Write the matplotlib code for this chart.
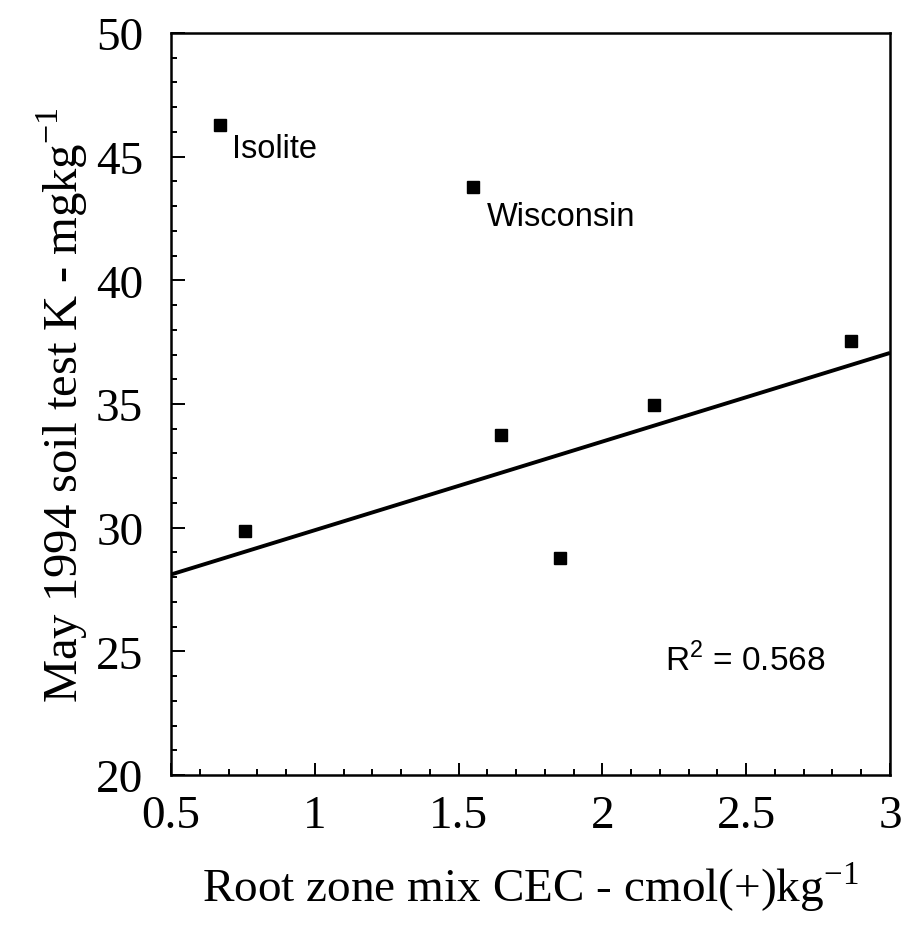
import matplotlib
matplotlib.use("Agg")
import matplotlib.pyplot as plt
import numpy as np
from matplotlib.ticker import MultipleLocator

# Data
cec = [0.67, 0.757, 1.549, 1.647, 1.853, 2.178, 2.866]
soil_k = [46.28, 29.87, 43.76, 33.76, 28.77, 34.96, 37.54]
names = ["Isolite", "", "Wisconsin", "", "", "", ""]
r2_text = "0.568"

plt.rcParams['mathtext.fontset'] = 'custom'
plt.rcParams['mathtext.rm'] = 'Liberation Serif'
plt.rcParams['mathtext.sf'] = 'Liberation Sans'

serif = 'Liberation Serif'
sans = 'Liberation Sans'

fig = plt.figure(figsize=(9.03, 9.28), dpi=100)
ax = fig.add_axes([0.1894, 0.1638, 0.7962, 0.7996])

ax.plot(cec, soil_k, 's', color='black', markersize=8)

# regression line fitted without the two labelled mixes
fit_x = np.array([c for c, n in zip(cec, names) if n == ""])
fit_y = np.array([k for k, n in zip(soil_k, names) if n == ""])
slope, intercept = np.polyfit(fit_x, fit_y, 1)
xs = np.array([0.5, 3.0])
ax.plot(xs, slope * xs + intercept, color='black', lw=2.8, solid_capstyle='butt')

# labels next to points
offsets = {"Isolite": (9, -17), "Wisconsin": (10, -21)}
for x, y, n in zip(cec, soil_k, names):
    if n:
        ax.annotate(n, (x, y), xytext=offsets[n], textcoords='offset points',
                    ha='left', va='center', fontsize=23.5, family=sans)

ax.text(0.687, 0.156, r"R$^{\mathsf{2}}$ = " + r2_text, transform=ax.transAxes,
        ha='left', va='center', fontsize=24, family=sans)

ax.set_xlim(0.5, 3)
ax.set_ylim(20, 50)
ax.xaxis.set_major_locator(MultipleLocator(0.5))
ax.xaxis.set_minor_locator(MultipleLocator(0.1))
ax.yaxis.set_major_locator(MultipleLocator(5))
ax.yaxis.set_minor_locator(MultipleLocator(1))
ax.set_xticks([0.5, 1, 1.5, 2, 2.5, 3])
ax.set_xticklabels(["0.5", "1", "1.5", "2", "2.5", "3"])

ax.tick_params(axis='both', which='both', direction='in', top=False, right=False,
               width=1.4, labelsize=34)
ax.tick_params(axis='x', which='major', length=9, pad=14)
ax.tick_params(axis='x', which='minor', length=4)
ax.tick_params(axis='y', which='major', length=10, pad=20)
ax.tick_params(axis='y', which='minor', length=4.5)
for lab in ax.get_xticklabels() + ax.get_yticklabels():
    lab.set_family(serif)

for sp in ax.spines.values():
    sp.set_linewidth(1.8)

ax.set_xlabel(r"Root zone mix CEC - cmol(+)kg$^{\mathrm{-1}}$", fontsize=34,
              family=serif, labelpad=16)
ax.set_ylabel(r"May 1994 soil test K - mgkg$^{\mathrm{-1}}$", fontsize=35,
              family=serif, labelpad=4)

fig.savefig("out.png", dpi=100)
